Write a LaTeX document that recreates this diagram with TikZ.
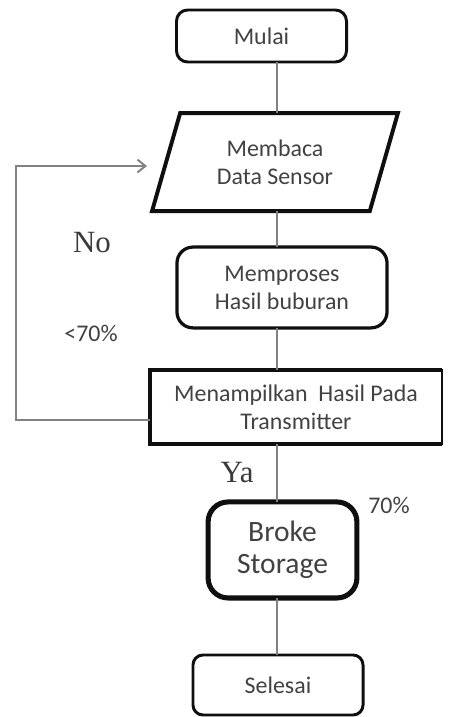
\documentclass[tikz,border=0pt]{standalone}
\usepackage{fontspec}
\setmainfont{Carlito}
\newfontfamily\serifFont{Liberation Serif}
\usetikzlibrary{shapes.geometric, arrows.meta, positioning, calc}
\definecolor{cBoxDraw}{RGB}{15, 15, 15}
\definecolor{cText}{RGB}{65, 65, 65}
\definecolor{lineColor}{RGB}{130, 130, 130}
\tikzset{
    font=\fontsize{17}{20}\selectfont,
    % --- base block ---
    baseBlock/.style={
        draw=cBoxDraw, text=cText, align=center,
        inner sep=0pt, outer sep=0pt
    },
    % --- semantic styles ---
    styleTerm/.style={baseBlock, rectangle, rounded corners=0.28cm, line width=2.1pt},
    styleIO/.style={baseBlock, trapezium, trapezium left angle=69, trapezium right angle=111,
        trapezium stretches=true, line width=2.8pt, minimum width=6.15cm, minimum height=2.45cm},
    styleProc/.style={baseBlock, rectangle, rounded corners=0.4cm, line width=2.3pt,
        minimum width=5.25cm, minimum height=2.02cm},
    styleOut/.style={baseBlock, rectangle, line width=1.3pt,
        minimum width=7.3cm, minimum height=1.85cm},
    styleStore/.style={baseBlock, rectangle, rounded corners=0.5cm, line width=3.6pt,
        minimum width=3.72cm, minimum height=2.4cm, font=\fontsize{21}{23}\selectfont},
    % --- labels ---
    labelSans/.style={text=cText},
    labelSerif/.style={text=cText!90!black, font=\serifFont\fontsize{22}{24}\selectfont},
    % --- connectors ---
    conn/.style={draw=lineColor, line width=1.4pt},
    connBack/.style={conn, -{Straight Barb[length=0.2cm, width=0.32cm]}}
}

\begin{document}
\begin{tikzpicture}[x=0.025cm, y=-0.025cm]

    \useasboundingbox (0,0) rectangle (451,717);

    % =========================================================
    % nodes
    % =========================================================

    \node [styleTerm, minimum width=4.25cm, minimum height=1.3cm] (mulai) at (261.5,36) {Mulai};

    \node [styleIO, below=1.275cm of mulai, xshift=0.3375cm] (baca) {Membaca\\Data Sensor};

    \node [styleProc, below=0.9cm of baca, xshift=0.175cm] (proses) {Memproses\\Hasil buburan};

    \node [styleOut, below=1.05cm of proses, xshift=0.35cm] (tampil) {Menampilkan\ \ Hasil Pada\\Transmitter};

    \node [styleStore, below=1.45cm of tampil, xshift=-0.3375cm] (broke) {Broke\\Storage};

    \node [styleTerm, below=1.425cm of broke, xshift=-0.1125cm,
        minimum width=4.25cm, minimum height=1.5cm, rounded corners=0.25cm] (selesai) {Selesai};

    % heavy edges of the output box
    \draw [cBoxDraw, line width=3pt] (tampil.north east) -- (tampil.north west)
        -- (tampil.south west) -- (tampil.south east);

    % labels
    \node [labelSerif] (lblNo) at (92,243) {No};
    \node [labelSans] (lblKurang) at (91,333) {<70\%};
    \node [labelSerif] (lblYa) at (237,473) {Ya};
    \node [labelSans] (lblLebih) at (389,505) {70\%};

    % =========================================================
    % connectors
    % =========================================================

    \coordinate (spine) at (277,0);
    \draw [conn] (mulai.south -| spine) -- (baca.north -| spine);
    \draw [conn] (baca.south -| spine) -- (proses.north -| spine);
    \draw [conn] (proses.south -| spine) -- (tampil.north -| spine);
    \draw [conn] (tampil.south -| spine) -- (broke.north -| spine);
    \draw [conn] (broke.south -| spine) -- (selesai.north -| spine);

    % loop back (No)
    \coordinate (loopCorner) at (16,166);
    \coordinate (loopEnd) at (147,166);
    \draw [connBack] ([yshift=-0.325cm]tampil.west) -| (loopCorner) -- (loopEnd);

\end{tikzpicture}
\end{document}
